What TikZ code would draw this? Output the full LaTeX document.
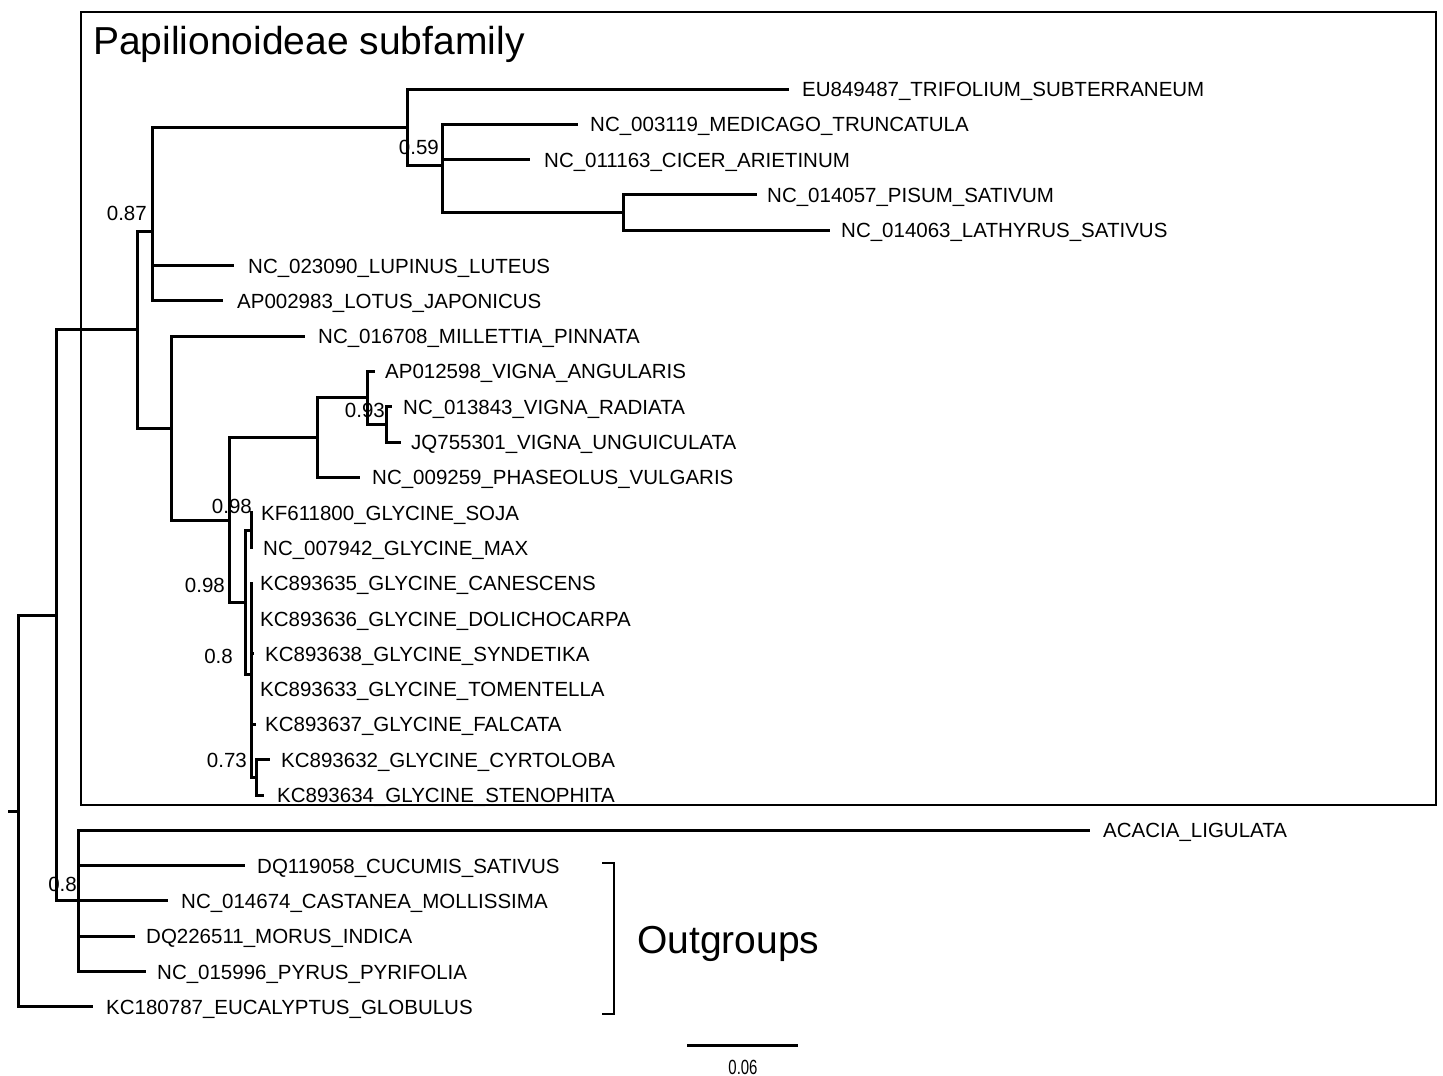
\documentclass[tikz,border=0pt]{standalone}
\usepackage{fontspec}
\setmainfont{Liberation Sans}
\usepackage{graphicx}
\newcommand\lblfont{\fontsize{20.5}{24}\selectfont}
\newcommand\bigfont{\fontsize{39}{45}\selectfont}
\begin{document}
\begin{tikzpicture}[x=1pt,y=-1pt,
  br/.style={line width=3pt},
  thin/.style={line width=1.5pt},
  leaf/.style={anchor=base west,inner sep=0pt,font=\lblfont},
  supp/.style={anchor=base east,inner sep=0pt,font=\lblfont},
  big/.style={anchor=base west,inner sep=0pt,font=\bigfont}]
\useasboundingbox (0,0) rectangle (1443,1076);
% leaf tips and labels
\coordinate (t0) at (789,89.0);   \node[leaf] (l0) at (802,96.5) {EU849487\_TRIFOLIUM\_SUBTERRANEUM};
\coordinate (t1) at (578,124.3);  \node[leaf] (l1) at (590,131.8) {NC\_003119\_MEDICAGO\_TRUNCATULA};
\coordinate (t2) at (530,159.6);  \node[leaf] (l2) at (544,167.1) {NC\_011163\_CICER\_ARIETINUM};
\coordinate (t3) at (757,194.9);  \node[leaf] (l3) at (767,202.4) {NC\_014057\_PISUM\_SATIVUM};
\coordinate (t4) at (830,230.2);  \node[leaf] (l4) at (841,237.7) {NC\_014063\_LATHYRUS\_SATIVUS};
\coordinate (t5) at (234,265.5);  \node[leaf] (l5) at (248,273.0) {NC\_023090\_LUPINUS\_LUTEUS};
\coordinate (t6) at (223,300.8);  \node[leaf] (l6) at (237,308.3) {AP002983\_LOTUS\_JAPONICUS};
\coordinate (t7) at (305,336.1);  \node[leaf] (l7) at (318,343.6) {NC\_016708\_MILLETTIA\_PINNATA};
\coordinate (t8) at (375,371.4);  \node[leaf] (l8) at (385,378.9) {AP012598\_VIGNA\_ANGULARIS};
\coordinate (t9) at (392,406.7);  \node[leaf] (l9) at (403,414.2) {NC\_013843\_VIGNA\_RADIATA};
\coordinate (t10) at (401,442.0); \node[leaf] (l10) at (411,449.5) {JQ755301\_VIGNA\_UNGUICULATA};
\coordinate (t11) at (360,477.3); \node[leaf] (l11) at (372,484.8) {NC\_009259\_PHASEOLUS\_VULGARIS};
\coordinate (t12) at (253,512.6); \node[leaf] (l12) at (261,520.1) {KF611800\_GLYCINE\_SOJA};
\coordinate (t13) at (253,547.9); \node[leaf] (l13) at (263,555.4) {NC\_007942\_GLYCINE\_MAX};
\coordinate (t14) at (253,583.2); \node[leaf] (l14) at (260,590.7) {KC893635\_GLYCINE\_CANESCENS};
\coordinate (t15) at (252,618.5); \node[leaf] (l15) at (260,626.0) {KC893636\_GLYCINE\_DOLICHOCARPA};
\coordinate (t16) at (254,653.8); \node[leaf] (l16) at (265,661.3) {KC893638\_GLYCINE\_SYNDETIKA};
\coordinate (t17) at (252,689.1); \node[leaf] (l17) at (260,696.6) {KC893633\_GLYCINE\_TOMENTELLA};
\coordinate (t18) at (256,724.4); \node[leaf] (l18) at (265,731.9) {KC893637\_GLYCINE\_FALCATA};
\coordinate (t19) at (270,759.7); \node[leaf] (l19) at (281,767.2) {KC893632\_GLYCINE\_CYRTOLOBA};
\coordinate (t20) at (264,795.0); \node[leaf] (l20) at (277,802.5) {KC893634\_GLYCINE\_STENOPHITA};
\coordinate (t21) at (1090,830.3); \node[leaf] (l21) at (1103,837.8) {ACACIA\_LIGULATA};
\coordinate (t22) at (245,865.6); \node[leaf] (l22) at (257,873.1) {DQ119058\_CUCUMIS\_SATIVUS};
\coordinate (t23) at (168,900.9); \node[leaf] (l23) at (181,908.4) {NC\_014674\_CASTANEA\_MOLLISSIMA};
\coordinate (t24) at (135,936.2); \node[leaf] (l24) at (146,943.7) {DQ226511\_MORUS\_INDICA};
\coordinate (t25) at (146,971.5); \node[leaf] (l25) at (157,979.0) {NC\_015996\_PYRUS\_PYRIFOLIA};
\coordinate (t26) at (93,1006.8);  \node[leaf] (l26) at (106,1014.3) {KC180787\_EUCALYPTUS\_GLOBULUS};
% internal nodes
\coordinate (U) at (386,424.4);
\coordinate (T) at (367,397.9);
\coordinate (S) at (317,437.6);
\coordinate (W) at (251,530.3);
\coordinate (Y) at (256,777.4);
\coordinate (X) at (251,674.4);
\coordinate (V) at (245,602.4);
\coordinate (R) at (229,520.0);
\coordinate (Q) at (171,428.0);
\coordinate (BB) at (623,212.6);
\coordinate (AA) at (442,165.5);
\coordinate (Z) at (407,127.3);
\coordinate (N) at (152,231.2);
\coordinate (P) at (137,329.6);
\coordinate (B) at (78,900.9);
\coordinate (A) at (56,615.3);
\coordinate (root) at (18,811.0);
\coordinate (stub) at (8,811.0);
% branches
\draw[br] (stub) -- (root);
\draw[br] (root) |- (A);  \draw[br] (root) |- (t26);
\draw[br] (A) |- (P);     \draw[br] (A) |- (B);
\foreach \c in {t21,t22,t23,t24,t25} \draw[br] (B) |- (\c);
\draw[br] (P) |- (N);     \draw[br] (P) |- (Q);
\draw[br] (N) |- (Z);     \draw[br] (N) |- (t5);  \draw[br] (N) |- (t6);
\draw[br] (Z) |- (t0);    \draw[br] (Z) |- (AA);
\draw[br] (AA) |- (t1);   \draw[br] (AA) |- (t2); \draw[br] (AA) |- (BB);
\draw[br] (BB) |- (t3);   \draw[br] (BB) |- (t4);
\draw[br] (Q) |- (t7);    \draw[br] (Q) |- (R);
\draw[br] (R) |- (S);     \draw[br] (R) |- (V);
\draw[br] (S) |- (T);     \draw[br] (S) |- (t11);
\draw[br] (T) |- (t8);    \draw[br] (T) |- (U);
\draw[br] (U) |- (t9);    \draw[br] (U) |- (t10);
\draw[br] (V) |- (W);     \draw[br] (V) |- (X);
\draw[br] (W) |- (t12);   \draw[br] (W) |- (t13);
\foreach \c in {t14,t15,t16,t17,t18,Y} \draw[br] (X) |- (\c);
\draw[br] (Y) |- (t19);   \draw[br] (Y) |- (t20);
% support values
\node[supp] (s59) at (439,154) {0.59};
\node[supp] (s87) at (147,220) {0.87};
\node[supp] (s93) at (385,417) {0.93};
\node[supp] (s98a) at (252,513) {0.98};
\node[supp] (s98b) at (225,592) {0.98};
\node[supp] (s80a) at (233,663) {0.8};
\node[supp] (s73) at (247,767) {0.73};
\node[supp] (s80b) at (77,891) {0.8};
% Papilionoideae box
\coordinate (boxnw) at (81,12);
\coordinate (boxse) at (1436,805);
\draw[thin] (boxnw) rectangle (boxse);
\node[big] (title) at (93,54) {Papilionoideae subfamily};
% outgroups bracket
\coordinate (bt0) at (602,863);
\coordinate (bt1) at (614,863);
\coordinate (bb1) at (614,1014);
\coordinate (bb0) at (602,1014);
\draw[thin] (bt0) -- (bt1) -- (bb1) -- (bb0);
\node[big] (outg) at (637,953) {Outgroups};
% scale bar
\coordinate (sc0) at (687,1045);
\coordinate (sc1) at (798,1045);
\draw[br] (sc0) -- (sc1);
\node[anchor=base,inner sep=0pt,font=\lblfont] (sclab) at (743,1074) {\scalebox{0.73}[1]{0.06}};
\end{tikzpicture}
\end{document}
